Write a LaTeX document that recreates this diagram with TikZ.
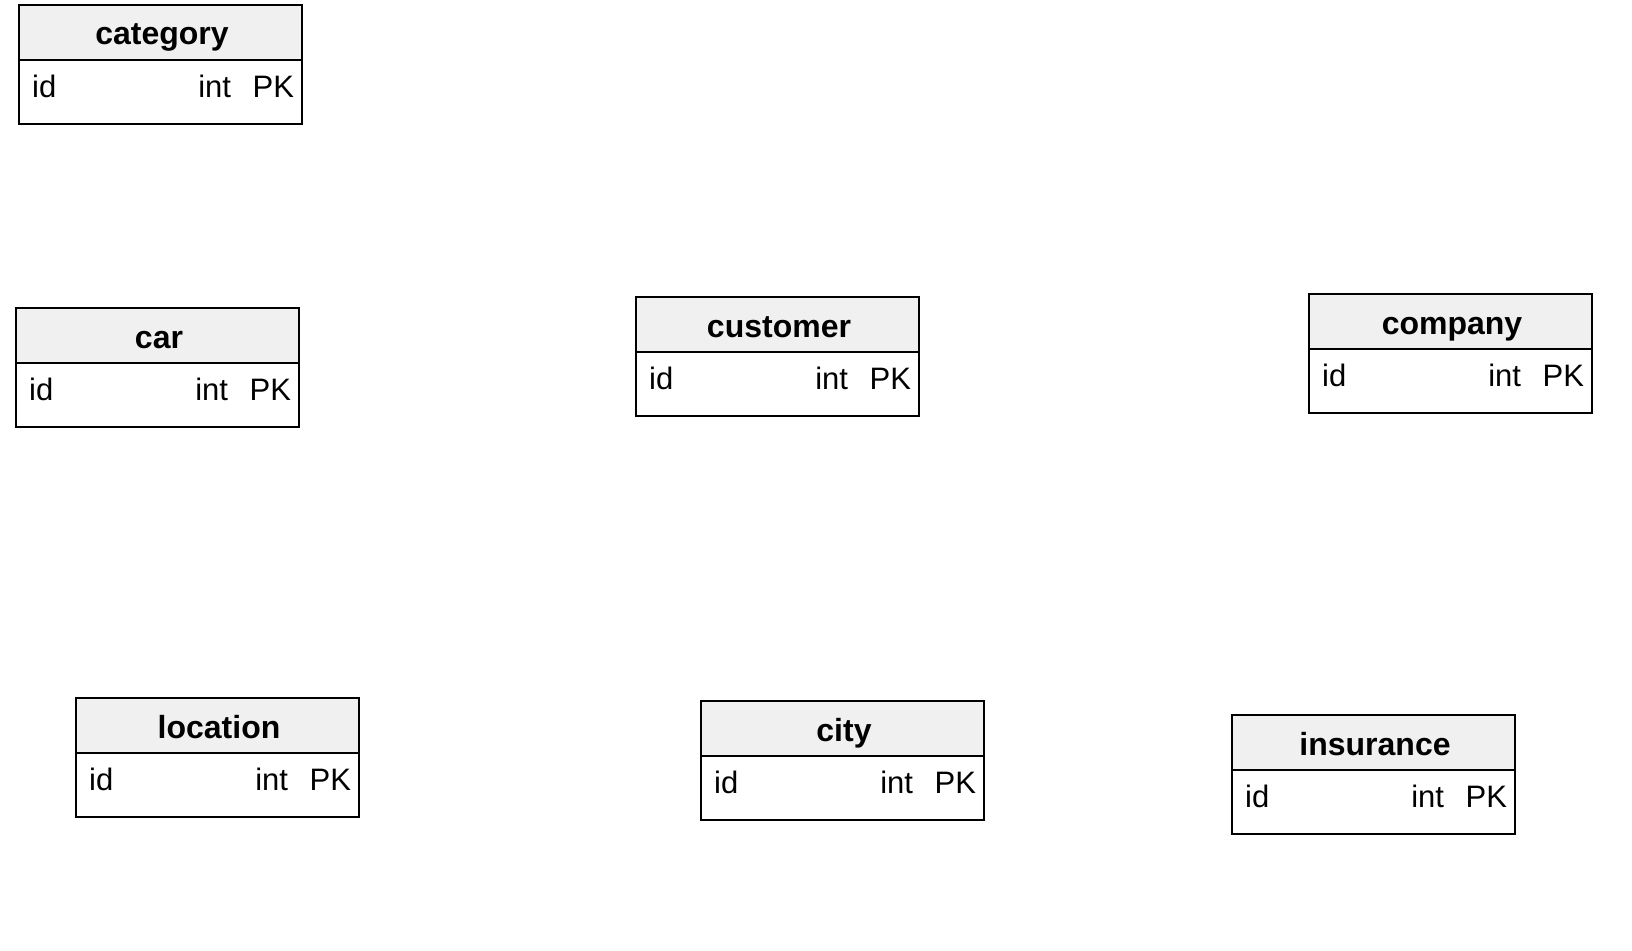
\documentclass[tikz,border=0pt]{standalone}
\usepackage{fontspec}
\setmainfont{Liberation Sans}
\usetikzlibrary{calc}
\definecolor{hdrgray}{HTML}{F0F0F0}
\newcommand\ertxt{\fontsize{31}{36}\selectfont}
\newcommand\erhdr{\fontsize{32}{38}\selectfont\bfseries}
\newcommand\ertable[4]{%
  \node[tblbody] (#1) at (#2,#3) {};
  \node[tblhead] (#1-h) at (#2,#3) {};
  \node[tbltxt,anchor=base,font=\erhdr] (#1-t) at ($(#1.north west)+(144,41)$) {#4};
  \node[tbltxt,anchor=base west] (#1-f) at ($(#1.north west)+(14,93)$) {id};
  \node[tbltxt,anchor=base east] (#1-y) at ($(#1.north east)+(-72,93)$) {int};
  \node[tbltxt,anchor=base east] (#1-k) at ($(#1.north east)+(-9,93)$) {PK};
}
\begin{document}
\begin{tikzpicture}[x=1pt,y=-1pt,
  tblbody/.style={draw,line width=2.2pt,minimum width=283pt,minimum height=119pt,anchor=north west,inner sep=0pt},
  tblhead/.style={draw,line width=2.2pt,fill=hdrgray,minimum width=283pt,minimum height=55pt,anchor=north west,inner sep=0pt},
  tbltxt/.style={inner sep=0pt,font=\ertxt}]
\useasboundingbox[fill=white] (0,0) rectangle (1632,950);
\ertable{category}{18}{4}{category}
\ertable{car}{15}{307}{car}
\ertable{customer}{635}{296}{customer}
\ertable{company}{1308}{293}{company}
\ertable{location}{75}{697}{location}
\ertable{city}{700}{700}{city}
\ertable{insurance}{1231}{714}{insurance}
\end{tikzpicture}
\end{document}
